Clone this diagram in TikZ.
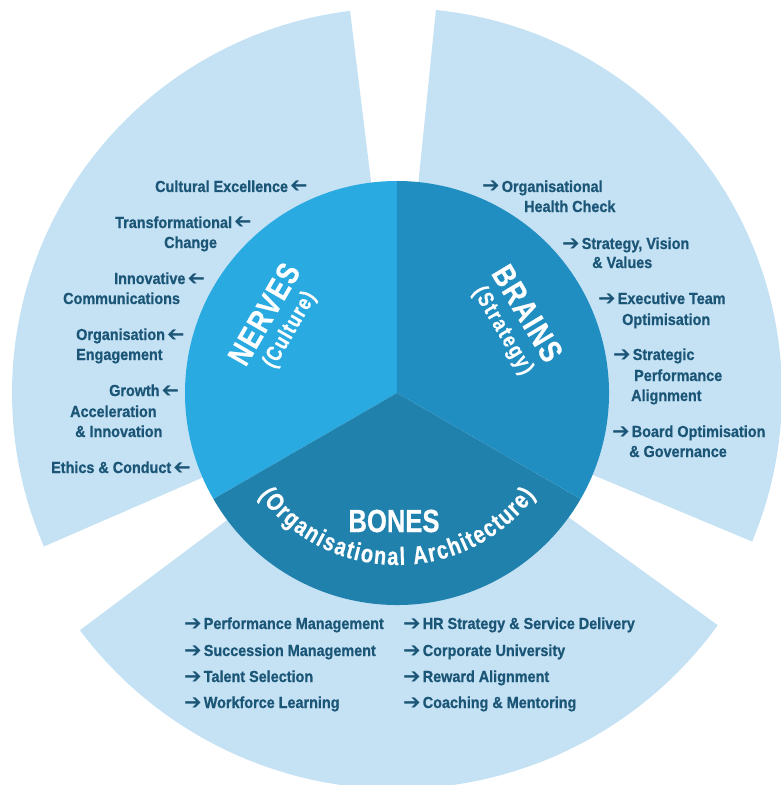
\documentclass[tikz,border=0pt]{standalone}
\usepackage{fontspec}
\usepackage{graphicx}
\setmainfont{Liberation Sans}
\newfontfamily\itemfamily{Liberation Sans}[FakeStretch=0.9, BoldFeatures={FakeBold=0.8}]
\newfontfamily\titlefamily{Liberation Sans}[FakeStretch=0.8, BoldFeatures={FakeBold=0.6}]
\newfontfamily\arrowfamily{DejaVu Sans}
\usetikzlibrary{decorations.text}
\definecolor{outerc}{HTML}{C5E2F5}
\definecolor{nervesc}{HTML}{29ABE2}
\definecolor{brainsc}{HTML}{218EC1}
\definecolor{bonesc}{HTML}{2181AD}
\definecolor{txt}{HTML}{1B5677}
\newcommand\arrGlyph{{\arrowfamily\fontsize{21}{21}\selectfont\raisebox{-1pt}{\char"2794}}}
\newcommand\arrR{\kern-3pt\arrGlyph\kern2pt}
\newcommand\arrL{\kern2pt\reflectbox{\arrGlyph}}
\tikzset{
  item/.style={font=\itemfamily\bfseries\fontsize{16}{20}\selectfont, text=txt, inner sep=0pt, anchor=base west},
  titletxt/.style={font=\titlefamily\bfseries\fontsize{32}{36}\selectfont, text=white, inner sep=0pt},
  subtxt/.style={font=\titlefamily\bfseries\fontsize{22}{26}\selectfont, text=white, inner sep=0pt},
}
\begin{document}
\begin{tikzpicture}[x=1pt,y=1pt]
\useasboundingbox (-397,-392) rectangle (384,393);
\clip (-397,-392) rectangle (384,393);
% outer sectors
\fill[outerc] (0,0) -- (97:385) arc[start angle=97, end angle=203.5, radius=385] -- cycle;
\fill[outerc] (0,0) -- (216.8:396) arc[start angle=216.8, end angle=324.1, radius=396] -- cycle;
\fill[outerc] (0,0) -- (-22.7:385) arc[start angle=-22.7, end angle=84.2, radius=385] -- cycle;
% inner sectors
\fill[nervesc] (0,0) -- (90:212) arc[start angle=90, end angle=210, radius=212] -- cycle;
\fill[bonesc] (0,0) -- (210:212) arc[start angle=210, end angle=330, radius=212] -- cycle;
\fill[brainsc] (0,0) -- (-30:212) arc[start angle=-30, end angle=90, radius=212] -- cycle;
% titles
\node[titletxt, rotate=60] (nerves) at (-133,79) {\addfontfeature{LetterSpace=4}NERVES};
\node[subtxt, rotate=60] (culture) at (-107,63) {\addfontfeature{LetterSpace=6}(Culture)};
\node[titletxt, rotate=-59] (brains) at (130.5,79.7) {\addfontfeature{LetterSpace=5}BRAINS};
\node[subtxt, rotate=-59.5] (strategy) at (105.5,62.2) {\addfontfeature{LetterSpace=8}(Strategy)};
\node[titletxt] (bones) at (-3,-128) {BONES};
\path[decorate, decoration={text along path, text color=white,
  text={|\titlefamily\bfseries\fontsize{25}{30}\selectfont|(Organisational Architecture)},
  text align=fit to path}]
  (216.5:172) arc[start angle=216.5, end angle=323.5, radius=172];
% left sector items
\node[item] (nv1) at (-242,201) {Cultural Excellence\arrL};
\node[item] (nv2a) at (-282,165) {Transformational\arrL};
\node[item] (nv2b) at (-233,145) {Change};
\node[item] (nv3a) at (-283,109) {Innovative\arrL};
\node[item] (nv3b) at (-334,89) {Communications};
\node[item] (nv4a) at (-321,53) {Organisation\arrL};
\node[item] (nv4b) at (-321,33) {Engagement};
\node[item] (nv5a) at (-288,-3) {Growth\arrL};
\node[item] (nv5b) at (-327,-24) {Acceleration};
\node[item] (nv5c) at (-322,-44) {\& Innovation};
\node[item] (nv6) at (-346,-80) {Ethics \& Conduct\arrL};
% right sector items
\node[item] (br1a) at (88,201) {\arrR Organisational};
\node[item] (br1b) at (127,181) {Health Check};
\node[item] (br2a) at (168,144) {\arrR Strategy, Vision};
\node[item] (br2b) at (195,125) {\& Values};
\node[item] (br3a) at (204,89) {\arrR Executive Team};
\node[item] (br3b) at (225,68) {Optimisation};
\node[item] (br4a) at (219,33) {\arrR Strategic};
\node[item] (br4b) at (237,12) {Performance};
\node[item] (br4c) at (234,-8) {Alignment};
\node[item] (br5a) at (218,-44) {\arrR Board Optimisation};
\node[item] (br5b) at (232,-64) {\& Governance};
% bottom sector items
\node[item] (bo1) at (-210,-236) {\arrR Performance Management};
\node[item] (bo2) at (-210,-263) {\arrR Succession Management};
\node[item] (bo3) at (-210,-289) {\arrR Talent Selection};
\node[item] (bo4) at (-210,-315) {\arrR Workforce Learning};
\node[item] (bo5) at (9,-236) {\arrR HR Strategy \& Service Delivery};
\node[item] (bo6) at (9,-263) {\arrR Corporate University};
\node[item] (bo7) at (9,-289) {\arrR Reward Alignment};
\node[item] (bo8) at (9,-315) {\arrR Coaching \& Mentoring};
\end{tikzpicture}
\end{document}
